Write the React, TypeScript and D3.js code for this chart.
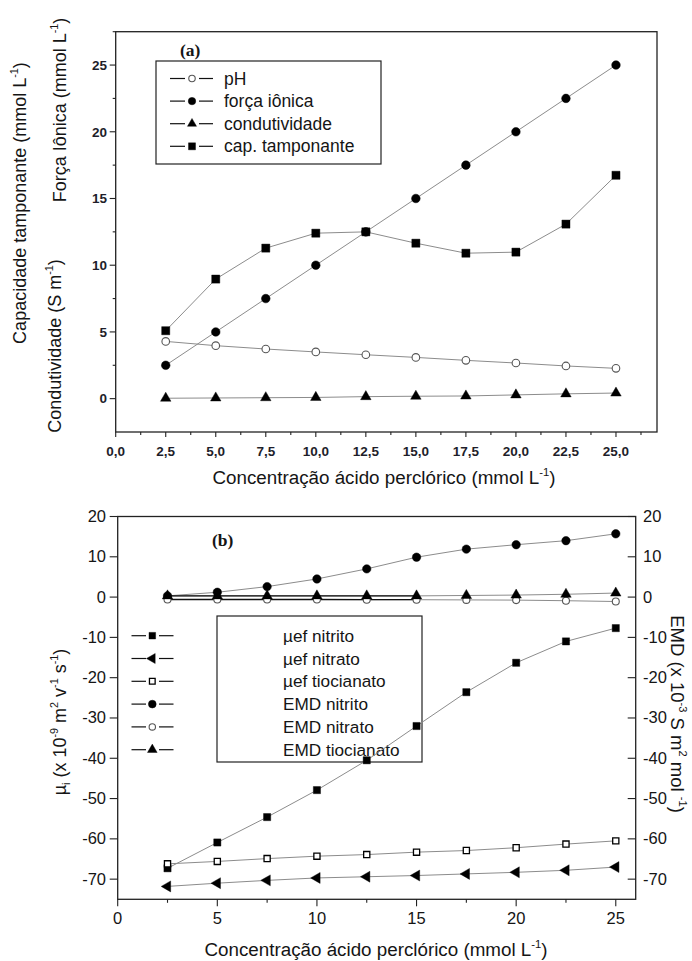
import React from "react";
import * as d3 from "d3";

// concentração de ácido perclórico (mmol L-1)
const conc = [2.5, 5, 7.5, 10, 12.5, 15, 17.5, 20, 22.5, 25];

// painel (a)
const phValues = [4.29, 3.97, 3.72, 3.5, 3.29, 3.09, 2.87, 2.67, 2.45, 2.27];
const forcaIonica = [2.5, 5, 7.5, 10, 12.5, 15, 17.5, 20, 22.5, 25];
const condutividade = [0.03, 0.05, 0.07, 0.09, 0.15, 0.18, 0.2, 0.28, 0.36, 0.42];
const capTamponante = [5.09, 8.96, 11.28, 12.4, 12.5, 11.65, 10.9, 10.98, 13.08, 16.74];

// painel (b)
const uefNitrito = [-67.3, -60.9, -54.6, -47.9, -40.5, -32.0, -23.6, -16.3, -11.0, -7.7];
const uefNitrato = [-71.8, -71.0, -70.3, -69.7, -69.4, -69.1, -68.7, -68.3, -67.8, -67.0];
const uefTiocianato = [-66.2, -65.6, -64.9, -64.3, -63.9, -63.3, -62.9, -62.2, -61.3, -60.5];
const emdNitrito = [0.3, 1.2, 2.6, 4.5, 7.0, 9.9, 11.9, 13.0, 14.0, 15.7];
const emdNitrato = [-0.6, -0.6, -0.6, -0.6, -0.65, -0.65, -0.7, -0.75, -0.9, -1.1];
const emdTiocianato = [0.3, 0.3, 0.3, 0.3, 0.3, 0.3, 0.4, 0.5, 0.7, 1.0];

// ticks
const xTicksA = [0, 2.5, 5, 7.5, 10, 12.5, 15, 17.5, 20, 22.5, 25];
const xMinorA = [1.25, 3.75, 6.25, 8.75, 11.25, 13.75, 16.25, 18.75, 21.25, 23.75, 26.25];
const yTicksA = [0, 5, 10, 15, 20, 25];
const yMinorA = [2.5, 7.5, 12.5, 17.5, 22.5, 27.5];
const xTicksB = [0, 5, 10, 15, 20, 25];
const xMinorB = [2.5, 7.5, 12.5, 17.5, 22.5];
const yTicksB = [-70, -60, -50, -40, -30, -20, -10, 0, 10, 20];

const legendA = ["pH", "força iônica", "condutividade", "cap. tamponante"];
const legendB = ["µef nitrito", "µef nitrato", "µef tiocianato", "EMD nitrito", "EMD nitrato", "EMD tiocianato"];

const SANS = "'Liberation Sans', Arial, sans-serif";
const SERIF = "'Liberation Serif', 'Times New Roman', serif";
const INK = "#151515";
const LINE = "#8c8c8c";

type Part = { t: string; sup?: boolean; sub?: boolean };

const RichText = ({ parts, fontSize, ...rest }: any) => {
  const small = fontSize * 0.6;
  let shift = 0;
  const spans = parts.map((p: Part, i: number) => {
    const target = p.sup ? -fontSize * 0.42 : p.sub ? fontSize * 0.22 : 0;
    const dy = target - shift;
    shift = target;
    return (
      <tspan key={i} dy={dy} fontSize={p.sup || p.sub ? small : fontSize}>
        {p.t}
      </tspan>
    );
  });
  return (
    <text fontSize={fontSize} fontFamily={SANS} fill={INK} {...rest}>
      {spans}
    </text>
  );
};

const Marker = ({ kind, x, y, size }: any) => {
  if (kind === "circleOpen" || kind === "circle") {
    const r = Math.sqrt(size / Math.PI);
    return (
      <circle
        cx={x}
        cy={y}
        r={kind === "circleOpen" ? r - 0.5 : r}
        fill={kind === "circleOpen" ? "#fff" : "#000"}
        stroke={kind === "circleOpen" ? "#555" : "#000"}
        strokeWidth={kind === "circleOpen" ? 1.1 : 0.5}
      />
    );
  }
  let type = d3.symbolSquare;
  let rot = 0;
  if (kind === "triangle") type = d3.symbolTriangle;
  if (kind === "triangleLeft") {
    type = d3.symbolTriangle;
    rot = -90;
  }
  const open = kind === "squareOpen";
  const d = d3.symbol().type(type).size(size)()!;
  return (
    <path
      d={d}
      transform={`translate(${x},${y}) rotate(${rot})`}
      fill={open ? "#fff" : "#000"}
      stroke="#000"
      strokeWidth={open ? 1.3 : 0.4}
    />
  );
};

const fmtComma = (v: number) => d3.format(".1f")(v).replace(".", ",");

const PanelA = () => {
  const x = d3.scaleLinear().domain([0, 27.05]).range([115.7, 657]);
  const y = d3.scaleLinear().domain([-2.5, 27.5]).range([432, 31.7]);
  const [x0, x1] = x.range();
  const [y0, y1] = y.range();
  const line = d3
    .line<number>()
    .x((_, i) => x(conc[i]))
    .y((v) => y(v));

  const series = [
    { values: phValues, kind: "circleOpen", size: 58 },
    { values: forcaIonica, kind: "circle", size: 58 },
    { values: condutividade, kind: "triangle", size: 48 },
    { values: capTamponante, kind: "square", size: 66 },
  ];

  return (
    <g>
      {series.map((s, k) => (
        <path key={k} d={line(s.values)!} fill="none" stroke={LINE} strokeWidth={1} />
      ))}
      {series.map((s, k) =>
        s.values.map((v, i) => <Marker key={`${k}-${i}`} kind={s.kind} x={x(conc[i])} y={y(v)} size={s.size} />)
      )}

      <rect x={x0} y={y1} width={x1 - x0} height={y0 - y1} fill="none" stroke="#222" strokeWidth={1.3} />

      {xTicksA.map((t) => (
        <g key={t}>
          <line x1={x(t)} x2={x(t)} y1={y0} y2={y0 + 5} stroke="#222" strokeWidth={1.1} />
          <text x={x(t)} y={456} textAnchor="middle" fontSize={13.5} fontWeight="bold" fontFamily={SANS} fill="#1e1e2a">
            {fmtComma(t)}
          </text>
        </g>
      ))}
      {xMinorA.map((t) => (
        <line key={t} x1={x(t)} x2={x(t)} y1={y0} y2={y0 + 3} stroke="#222" strokeWidth={1.1} />
      ))}
      {yTicksA.map((t) => (
        <g key={t}>
          <line x1={x0 - 6} x2={x0} y1={y(t)} y2={y(t)} stroke="#222" strokeWidth={1.1} />
          <text x={107} y={y(t) + 4.8} textAnchor="end" fontSize={13.5} fontWeight="bold" fontFamily={SANS} fill="#1e1e2a">
            {t}
          </text>
        </g>
      ))}
      {yMinorA.map((t) => (
        <line key={t} x1={x0 - 3} x2={x0} y1={y(t)} y2={y(t)} stroke="#222" strokeWidth={1.1} />
      ))}

      <text x={180} y={56} fontSize={17.5} fontWeight="bold" fontFamily={SERIF} fill={INK}>
        (a)
      </text>

      {/* legenda */}
      <rect x={156} y={61} width={225} height={103} fill="#fff" stroke="#222" strokeWidth={1.2} />
      {legendA.map((name, i) => {
        const ly = 78.5 + i * 22.6;
        return (
          <g key={name}>
            <line x1={170} x2={185} y1={ly} y2={ly} stroke="#111" strokeWidth={1.2} />
            <line x1={199} x2={213} y1={ly} y2={ly} stroke="#111" strokeWidth={1.2} />
            <Marker kind={series[i].kind} x={192} y={ly} size={series[i].size * 0.75} />
            <text x={224} y={ly + 6} fontSize={17.5} fontFamily={SANS} fill={INK}>
              {name}
            </text>
          </g>
        );
      })}

      {/* eixos */}
      <RichText
        parts={[{ t: "Concentração ácido perclórico (mmol L" }, { t: "-1", sup: true }, { t: ")" }]}
        fontSize={18.8}
        x={384}
        y={484}
        textAnchor="middle"
      />
      <RichText
        parts={[{ t: "Força Iônica (mmol L" }, { t: "-1", sup: true }, { t: ")" }]}
        fontSize={18}
        transform="translate(66,110) rotate(-90)"
        textAnchor="middle"
      />
      <RichText
        parts={[{ t: "Capacidade tamponante (mmol L" }, { t: "-1", sup: true }, { t: ")" }]}
        fontSize={18}
        transform="translate(26,203) rotate(-90)"
        textAnchor="middle"
      />
      <RichText
        parts={[{ t: "Condutividade (S m" }, { t: "-1", sup: true }, { t: ")" }]}
        fontSize={18}
        transform="translate(61,346) rotate(-90)"
        textAnchor="middle"
      />
    </g>
  );
};

const PanelB = () => {
  const x = d3.scaleLinear().domain([0, 26]).range([117.7, 635.7]);
  const y = d3.scaleLinear().domain([-75, 20]).range([899.3, 516.5]);
  const [x0, x1] = x.range();
  const [y0, y1] = y.range();
  const line = d3
    .line<number>()
    .x((_, i) => x(conc[i]))
    .y((v) => y(v));
  const darkUntil = 15;

  const series = [
    { values: uefNitrito, kind: "square", size: 52, dark: false },
    { values: uefNitrato, kind: "triangleLeft", size: 52, dark: false },
    { values: uefTiocianato, kind: "squareOpen", size: 38, dark: false },
    { values: emdNitrito, kind: "circle", size: 56, dark: false },
    { values: emdNitrato, kind: "circleOpen", size: 50, dark: true },
    { values: emdTiocianato, kind: "triangle", size: 48, dark: true },
  ];

  return (
    <g>
      {/* legenda (caixa sem preenchimento, dados por cima) */}
      <rect x={217} y={616} width={205} height={146} fill="none" stroke="#222" strokeWidth={1.2} />
      {legendB.map((name, i) => {
        const ly = 635.7 + i * 22.8;
        return (
          <g key={name}>
            <line x1={131.5} x2={146} y1={ly} y2={ly} stroke="#111" strokeWidth={1.2} />
            <line x1={159} x2={173.5} y1={ly} y2={ly} stroke="#111" strokeWidth={1.2} />
            <Marker kind={series[i].kind} x={152.3} y={ly} size={series[i].size * 0.85} />
            <text x={283} y={ly + 6} fontSize={17.2} fontFamily={SANS} fill={INK}>
              {name}
            </text>
          </g>
        );
      })}

      {series.map((s, k) => (
        <path key={k} d={line(s.values)!} fill="none" stroke={LINE} strokeWidth={1} />
      ))}
      {series
        .filter((s) => s.dark)
        .map((s, k) => {
          const n = conc.filter((c) => c <= darkUntil).length;
          return <path key={`d${k}`} d={line(s.values.slice(0, n))!} fill="none" stroke="#111" strokeWidth={1.3} />;
        })}
      {series.map((s, k) =>
        s.values.map((v, i) => <Marker key={`${k}-${i}`} kind={s.kind} x={x(conc[i])} y={y(v)} size={s.size} />)
      )}

      <rect x={x0} y={y1} width={x1 - x0} height={y0 - y1} fill="none" stroke="#222" strokeWidth={1.3} />

      {xTicksB.map((t) => (
        <g key={t}>
          <line x1={x(t)} x2={x(t)} y1={y0} y2={y0 + 7} stroke="#222" strokeWidth={1.1} />
          <text x={x(t)} y={924} textAnchor="middle" fontSize={16.5} fontFamily={SANS} fill={INK}>
            {t}
          </text>
        </g>
      ))}
      {xMinorB.map((t) => (
        <line key={t} x1={x(t)} x2={x(t)} y1={y0} y2={y0 + 3.5} stroke="#222" strokeWidth={1.1} />
      ))}
      {yTicksB.map((t) => (
        <g key={t}>
          <line x1={x0 - 8} x2={x0} y1={y(t)} y2={y(t)} stroke="#222" strokeWidth={1.1} />
          <text x={106} y={y(t) + 5.5} textAnchor="end" fontSize={16.5} fontFamily={SANS} fill={INK}>
            {t}
          </text>
          <line x1={x1 - 8} x2={x1} y1={y(t)} y2={y(t)} stroke="#222" strokeWidth={1.1} />
          <text x={643} y={y(t) + 5.5} textAnchor="start" fontSize={16.5} fontFamily={SANS} fill={INK}>
            {t}
          </text>
        </g>
      ))}

      <text x={212} y={546} fontSize={17.5} fontWeight="bold" fontFamily={SERIF} fill={INK}>
        (b)
      </text>

      <RichText
        parts={[{ t: "Concentração ácido perclórico (mmol L" }, { t: "-1", sup: true }, { t: ")" }]}
        fontSize={18.8}
        x={376}
        y={956}
        textAnchor="middle"
      />
      <RichText
        parts={[
          { t: "µ" },
          { t: "i", sub: true },
          { t: "   (x 10" },
          { t: "-9", sup: true },
          { t: " m" },
          { t: "2", sup: true },
          { t: " v" },
          { t: "-1", sup: true },
          { t: " s" },
          { t: "-1", sup: true },
          { t: ")" },
        ]}
        fontSize={18}
        transform="translate(66,722) rotate(-90)"
        textAnchor="middle"
      />
      <RichText
        parts={[
          { t: "EMD (x 10" },
          { t: "-3", sup: true },
          { t: " S m" },
          { t: "2", sup: true },
          { t: " mol " },
          { t: "-1", sup: true },
          { t: ")" },
        ]}
        fontSize={18.5}
        transform="translate(671,714) rotate(90)"
        textAnchor="middle"
      />
    </g>
  );
};

export default function App() {
  return (
    <svg
      width={692}
      height={961}
      style={{ position: "absolute", left: 0, top: 0, background: "#fff" }}
    >
      <rect width={692} height={961} fill="#fff" />
      <PanelA />
      <PanelB />
    </svg>
  );
}
